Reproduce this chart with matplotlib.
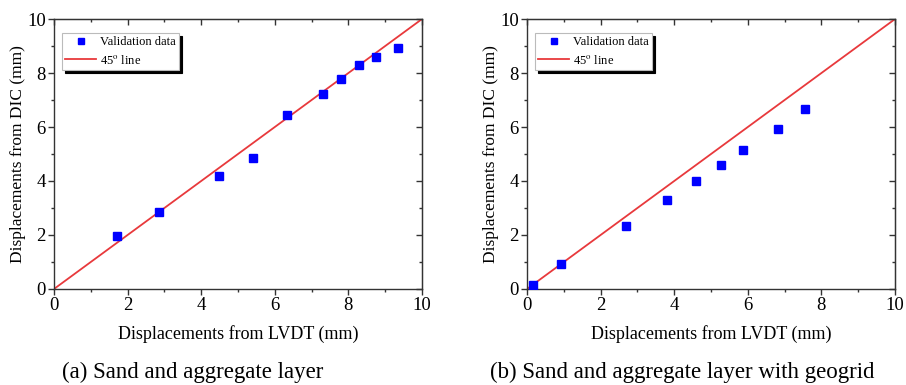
import matplotlib
matplotlib.use("Agg")
import matplotlib.pyplot as plt
import numpy as np

plt.rcParams['font.family'] = ['Liberation Serif', 'DejaVu Serif']
plt.rcParams['mathtext.fontset'] = 'stix'

# Data
lvdt_a = [1.71, 2.84, 4.48, 5.41, 6.33, 7.31, 7.81, 8.28, 8.75, 9.35]
dic_a = [1.96, 2.87, 4.20, 4.85, 6.44, 7.24, 7.78, 8.29, 8.60, 8.94]
lvdt_b = [0.16, 0.92, 2.69, 3.80, 4.58, 5.26, 5.87, 6.81, 7.54]
dic_b = [0.16, 0.93, 2.34, 3.30, 4.01, 4.60, 5.14, 5.94, 6.68]
line_x = [0, 10]
line_y = [0, 10]
ticks = [0, 2, 4, 6, 8, 10]
minor_ticks = [1, 3, 5, 7, 9]
xlabel = "Displacements from LVDT (mm)"
ylabel = "Displacements from DIC (mm)"
captions = ["(a) Sand and aggregate layer", "(b) Sand and aggregate layer with geogrid"]
legend_labels = ["Validation data", "45$^{\\mathrm{o}}$ line"]

fig = plt.figure(figsize=(9.06, 3.85), dpi=100)
positions = [[0.0596, 0.2494, 0.4062, 0.7012], [0.5817, 0.2494, 0.4062, 0.7012]]
datasets = [(lvdt_a, dic_a), (lvdt_b, dic_b)]
spine_color = '#333333'

for i, (pos, (xd, yd)) in enumerate(zip(positions, datasets)):
    ax = fig.add_axes(pos)
    ax.plot(xd, yd, linestyle='none', marker='s', markersize=5.2, color='#0000ff',
            label=legend_labels[0], zorder=3)
    ax.plot(line_x, line_y, color='#e8393c', linewidth=1.3, label=legend_labels[1], zorder=2)
    ax.set_xlim(0, 10)
    ax.set_ylim(0, 10)
    ax.set_xticks(ticks)
    ax.set_yticks(ticks)
    ax.set_xticks(minor_ticks, minor=True)
    ax.set_yticks(minor_ticks, minor=True)
    ax.tick_params(which='major', direction='out', length=4, width=1, labelsize=13.5,
                   color=spine_color, pad=2)
    ax.tick_params(which='minor', direction='out', length=2.5, width=1, color=spine_color)
    for s in ax.spines.values():
        s.set_color(spine_color)
        s.set_linewidth(1.0)
    top = ax.secondary_xaxis('top')
    top.set_xticks(ticks)
    top.set_xticks(minor_ticks, minor=True)
    top.tick_params(which='major', direction='in', length=4, width=1, labeltop=False, color=spine_color)
    top.tick_params(which='minor', direction='in', length=2.5, width=1, color=spine_color)
    top.spines['top'].set_color(spine_color)
    right = ax.secondary_yaxis('right')
    right.set_yticks(ticks)
    right.set_yticks(minor_ticks, minor=True)
    right.tick_params(which='major', direction='in', length=4, width=1, labelright=False, color=spine_color)
    right.tick_params(which='minor', direction='in', length=2.5, width=1, color=spine_color)
    right.spines['right'].set_color(spine_color)

    ax.set_xlabel(xlabel, fontsize=13, labelpad=8)
    ax.set_ylabel(ylabel, fontsize=12.5, labelpad=1)

    leg = ax.legend(loc='upper left', bbox_to_anchor=(0.022, 0.948), fontsize=9,
                    frameon=True, fancybox=False,
                    shadow={'color': 'black', 'alpha': 1.0},
                    borderpad=0.25, labelspacing=0.45, handlelength=2.5,
                    handletextpad=0.3, borderaxespad=0.0, markerscale=0.9)
    leg.get_frame().set_edgecolor('#bbbbbb')
    leg.get_frame().set_linewidth(0.8)

fig.text(62 / 906, 0.004, captions[0], fontsize=16.5, ha='left', va='bottom')
fig.text(490 / 906, 0.004, captions[1], fontsize=16.5, ha='left', va='bottom')

fig.savefig('out.png', dpi=100)
